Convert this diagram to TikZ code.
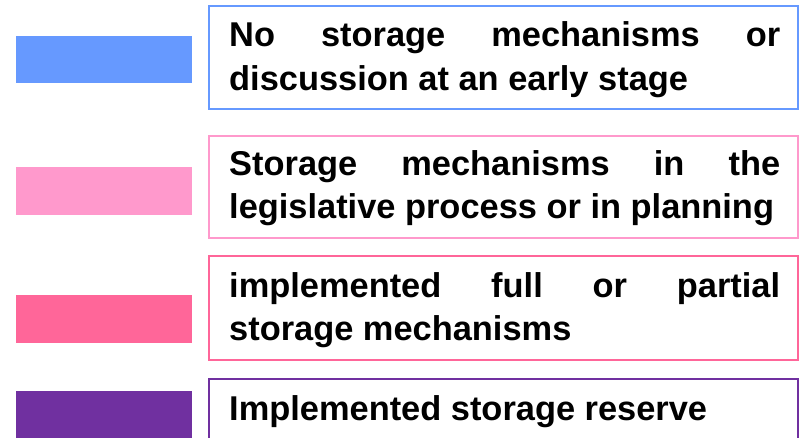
\documentclass[tikz,border=0pt]{standalone}
\usepackage{fontspec}
\setmainfont{Liberation Sans}
\definecolor{cblue}{HTML}{6699FF}
\definecolor{cpinkl}{HTML}{FF99CC}
\definecolor{cpink}{HTML}{FF6699}
\definecolor{cpurple}{HTML}{7030A0}
\tikzset{
  swatch/.style={fill=#1, draw=none},
  legbox/.style={draw=#1, line width=2pt, fill=white},
  txt/.style={anchor=base west, inner sep=0pt, font=\fontsize{34.4}{40}\selectfont\bfseries}
}
\begin{document}
\begin{tikzpicture}[x=1pt,y=-1pt]
\useasboundingbox (0,0) rectangle (800,437);
\clip (0,0) rectangle (800,437);
% swatches
\fill[swatch=cblue] (16,36) rectangle (192,83);
\fill[swatch=cpinkl] (16,167) rectangle (192,215);
\fill[swatch=cpink] (16,295) rectangle (192,343);
\fill[swatch=cpurple] (16,391) rectangle (192,440);
% boxes
\draw[legbox=cblue] (209,6) rectangle (798,109);
\draw[legbox=cpinkl] (209,136) rectangle (798,238);
\draw[legbox=cpink] (209,256) rectangle (798,360);
\draw[legbox=cpurple] (209,379) rectangle (798,450);
% texts
\node[txt] (t1a) at (229,46) {\makebox[551pt][s]{No storage mechanisms or}};
\node[txt] (t1b) at (229,90) {discussion at an early stage};
\node[txt] (t2a) at (229,175) {\makebox[551pt][s]{Storage mechanisms in the}};
\node[txt] (t2b) at (229,218) {legislative process or in planning};
\node[txt] (t3a) at (229,297) {\makebox[551pt][s]{implemented full or partial}};
\node[txt] (t3b) at (229,340) {storage mechanisms};
\node[txt] (t4a) at (229,420) {Implemented storage reserve};
\end{tikzpicture}
\end{document}
